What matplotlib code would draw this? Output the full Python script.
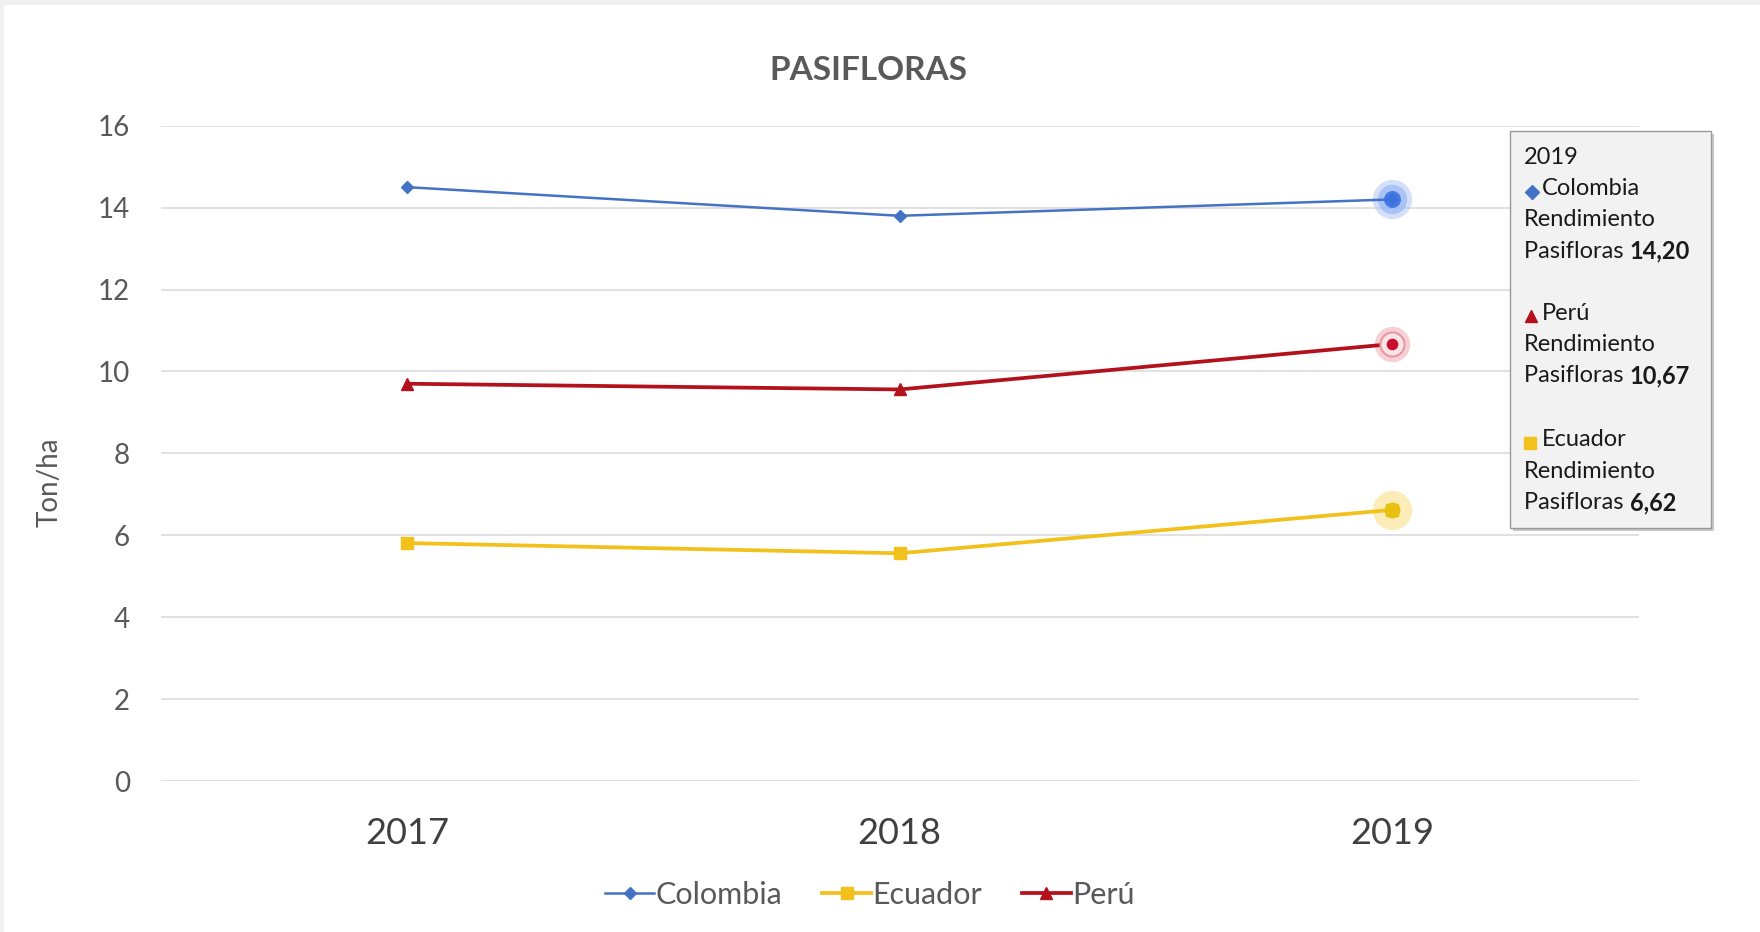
import matplotlib.pyplot as plt
from matplotlib.patches import Rectangle
from matplotlib.lines import Line2D

# Rendimiento de pasifloras (Ton/ha) por país
anios = ["2017", "2018", "2019"]
colombia = [14.50, 13.80, 14.20]
ecuador = [5.81, 5.56, 6.62]
peru = [9.70, 9.56, 10.67]

COL_AZUL = "#4472C4"
COL_AMAR = "#F3C11B"
COL_ROJO = "#B3121D"
GRIS_TXT = "#595959"

plt.rcParams["font.family"] = ["Lato", "DejaVu Sans"]

W, H = 1760, 932


def px(x, y):
    """Convierte coordenadas en pixeles (origen arriba a la izquierda) a fracciones de figura."""
    return x / W, 1 - y / H


def fmt(v):
    return f"{v:.2f}".replace(".", ",")


fig = plt.figure(figsize=(W / 100, H / 100), dpi=100)
fig.patch.set_facecolor("white")

# franja gris del borde
fig.add_artist(Rectangle((0, 1 - 5 / H), 1, 5 / H, transform=fig.transFigure,
                         facecolor="#f0f0f0", edgecolor="none"))
fig.add_artist(Rectangle((0, 0), 4 / W, 1, transform=fig.transFigure,
                         facecolor="#f0f0f0", edgecolor="none"))

x0, y1 = px(160.5, 125.7)
x1, y0 = px(1638.7, 781)
ax = fig.add_axes([x0, y0, x1 - x0, y1 - y0])

x = range(len(anios))
ax.plot(x, colombia, color=COL_AZUL, lw=1.8, marker="D", ms=6, label="Colombia", zorder=4)
ax.plot(x, ecuador, color=COL_AMAR, lw=2.7, marker="s", ms=8, label="Ecuador", zorder=4)
ax.plot(x, peru, color=COL_ROJO, lw=2.7, marker="^", ms=8, label="Perú", zorder=4)

# resaltado del punto seleccionado (2019)
ax.scatter([2], [colombia[2]], s=800, color="#aac3f7", alpha=0.5, lw=0, zorder=3)
ax.scatter([2], [colombia[2]], s=450, color="#8fb0f5", alpha=0.6, lw=0, zorder=3)
ax.scatter([2], [colombia[2]], s=150, color="#3d73e0", alpha=0.9, lw=0, zorder=5)
ax.scatter([2], [peru[2]], s=650, color="#f6c5cb", alpha=0.8, lw=0, zorder=3)
ax.scatter([2], [peru[2]], s=300, facecolor="#fbe3e6", edgecolor="#e39aa3", lw=1.5, zorder=5)
ax.scatter([2], [peru[2]], s=70, color="#c8102e", lw=0, zorder=6)
ax.scatter([2], [ecuador[2]], s=800, color="#fbe59a", alpha=0.7, lw=0, zorder=3)
ax.scatter([2], [ecuador[2]], s=130, color="#e8c00f", lw=0, zorder=5)

ax.set_xlim(-0.5, 2.5)
ax.set_ylim(0, 16)
ax.set_yticks(range(0, 17, 2))
ax.set_xticks(list(x))
ax.set_xticklabels(anios)
ax.grid(axis="y", color="#d9d9d9", lw=1.1)
ax.set_axisbelow(True)
for s in ax.spines.values():
    s.set_visible(False)
ax.tick_params(axis="both", length=0, colors=GRIS_TXT)
ax.tick_params(axis="y", labelsize=20, pad=22)
ax.tick_params(axis="x", labelsize=26, pad=26)
for t in ax.get_xticklabels():
    t.set_color("#404040")

fig.text(*px(868, 70), "PASIFLORAS", ha="center", va="center",
         fontsize=24, fontweight="bold", color=GRIS_TXT)
fig.text(*px(50, 430 * 1.1224), "Ton/ha", rotation=90, ha="center", va="center",
         fontsize=20, color=GRIS_TXT)

fig.legend(loc="center", bbox_to_anchor=px(870, 895), ncol=3, frameon=False,
           fontsize=22, handlelength=1.6, handletextpad=0.05, columnspacing=1.3,
           labelcolor=GRIS_TXT)

# cuadro de información del punto 2019
bx0, by0 = 1509.6, 131
bx1, by1 = 1710.5, 527.5
fx, fy = px(bx0 + 3, by1 + 3)
fig.add_artist(Rectangle((fx, fy), (bx1 - bx0) / W, (by1 - by0) / H,
                         transform=fig.transFigure, facecolor="#c8c8c8",
                         edgecolor="none", zorder=10))
fx, fy = px(bx0, by1)
fig.add_artist(Rectangle((fx, fy), (bx1 - bx0) / W, (by1 - by0) / H,
                         transform=fig.transFigure, facecolor="#f2f2f2",
                         edgecolor="#9a9a9a", lw=1, zorder=11))

tt = dict(fontsize=17, color="#1a1a1a", va="center", zorder=12)
fig.text(*px(1524, 157), anios[2], **tt)

bloques = [
    ("Colombia", colombia[2], COL_AZUL, "D", 7, 188.6, 1532),
    ("Perú", peru[2], COL_ROJO, "^", 9, 313, 1531),
    ("Ecuador", ecuador[2], COL_AMAR, "s", 9, 440, 1530),
]
for nombre, valor, color, mk, ms, yy, mx in bloques:
    fig.add_artist(Line2D([px(mx, 0)[0]], [px(0, yy + 3)[1]], marker=mk, ms=ms,
                          color=color, lw=0, transform=fig.transFigure, zorder=12))
    fig.text(*px(1542, yy), nombre, **tt)
    fig.text(*px(1524, yy + 31.4), "Rendimiento", **tt)
    t = fig.text(*px(1524, yy + 62.8), "Pasifloras ", **tt)
    fig.add_artist(plt.Annotation(fmt(valor), xy=(1, 0.5), xycoords=t, va="center",
                                  fontsize=17, fontweight="bold", color="#1a1a1a",
                                  zorder=12))

fig.savefig("out.png", dpi=100)
